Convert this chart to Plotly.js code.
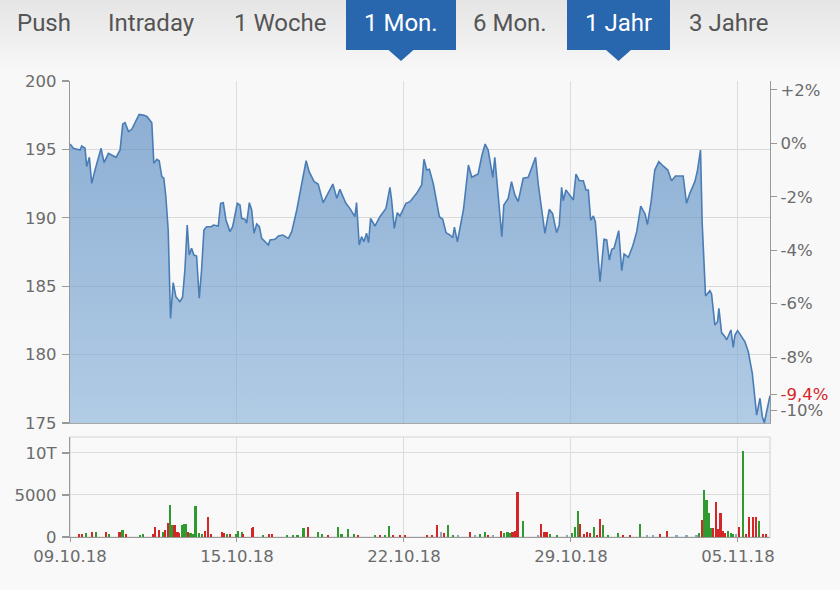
<!DOCTYPE html>
<html>
<head>
<meta charset="utf-8">
<script src="https://cdn.plot.ly/plotly-3.0.1.min.js"></script>
<style>
html,body{margin:0;padding:0;}
body{width:840px;height:590px;overflow:hidden;
background:linear-gradient(to bottom,#e5e5e5 0px,#f2f2f2 50px,#f8f8f8 70px,#f9f9f9 100%);}
#chart{width:840px;height:590px;}
</style>
</head>
<body>
<div id="chart"></div>
<script>
// ---- data (trading-day position from 09.10.18, price in EUR) ----
const priceT = [0,0.10,0.30,0.35,0.45,0.50,0.58,0.65,0.75,0.93,1.02,1.15,1.38,1.50,1.58,1.65,1.75,1.85,2.07,2.22,2.31,2.45,2.51,2.60,2.67,2.75,2.81,2.87,2.94,3.01,3.09,3.17,3.29,3.37,3.44,3.51,3.57,3.64,3.71,3.79,3.87,3.94,4.01,4.09,4.24,4.29,4.44,4.51,4.59,4.67,4.79,4.87,5.01,5.09,5.14,5.24,5.29,5.37,5.44,5.51,5.59,5.67,5.74,5.94,5.99,6.14,6.24,6.37,6.54,6.64,6.79,6.91,7.07,7.16,7.31,7.43,7.58,7.87,7.99,8.08,8.26,8.38,8.53,8.58,8.66,8.73,8.80,8.88,8.94,9.00,9.13,9.28,9.46,9.58,9.63,9.71,9.80,9.88,10.06,10.18,10.38,10.53,10.60,10.68,10.76,10.88,11.06,11.16,11.26,11.38,11.46,11.51,11.60,11.78,11.93,12.03,12.22,12.33,12.43,12.52,12.66,12.72,12.93,12.99,13.12,13.22,13.32,13.42,13.57,13.72,13.94,14.02,14.12,14.22,14.35,14.45,14.57,14.65,14.72,14.77,14.85,15.07,15.15,15.25,15.37,15.45,15.52,15.59,15.67,15.73,15.87,15.99,16.07,16.15,16.22,16.29,16.43,16.52,16.59,16.72,16.85,16.97,17.09,17.22,17.29,17.40,17.51,17.63,17.76,17.90,18.01,18.13,18.36,18.46,18.56,18.71,18.79,18.88,18.93,18.99,19.03,19.16,19.21,19.31,19.39,19.43,19.51,19.61,19.66,19.79,19.86,19.91,19.99,20.11,20.21,20.31,20.43,20.56,20.66,20.73,20.79,20.89,20.96];
const price = [195.39,195.08,194.96,195.25,195.08,193.74,194.42,192.52,193.49,195.08,194.03,194.71,194.42,194.96,196.86,196.95,196.30,196.47,197.56,197.49,197.39,196.95,193.98,194.28,194.17,193.00,192.89,191.54,189.11,182.65,185.26,184.23,183.87,184.19,186.18,189.47,187.28,187.77,187.28,187.21,184.12,186.18,189.11,189.35,189.35,189.47,189.40,191.06,191.11,189.84,188.99,189.35,191.06,190.94,189.96,189.89,189.60,191.11,190.57,188.87,189.55,189.35,188.50,188.01,188.38,188.43,188.67,188.74,188.50,188.99,190.57,192.03,194.17,193.37,192.64,192.47,191.11,192.47,191.42,192.08,191.06,190.69,190.08,191.11,188.01,188.62,188.25,188.87,188.18,189.96,189.40,190.08,190.69,192.23,191.30,189.23,190.37,190.13,191.06,191.18,191.79,192.40,194.28,193.49,193.55,192.47,190.08,189.89,188.91,188.74,188.55,189.31,188.25,190.57,193.86,192.96,193.20,194.52,195.39,194.96,192.96,194.42,188.62,190.94,191.42,192.64,191.67,191.18,192.89,192.96,194.42,192.47,190.81,188.87,190.62,190.30,188.91,189.47,192.23,191.25,192.03,191.30,193.20,192.71,192.71,192.03,192.03,189.82,190.13,189.72,185.33,188.43,188.38,186.91,187.70,187.77,189.06,186.13,187.35,187.11,187.94,188.99,190.86,190.28,189.50,191.18,193.49,194.10,193.79,193.49,192.71,193.06,193.06,191.06,191.79,192.64,193.49,194.96,189.60,185.94,184.28,184.67,184.43,182.16,182.41,183.38,181.61,181.31,181.07,181.80,180.53,181.43,181.75,181.31,180.94,180.21,178.63,175.58,176.81,175.46,175.02,176.19,177.00];

const volT = [0.28,0.35,0.48,0.65,0.78,1.08,1.17,1.48,1.57,1.68,2.10,2.18,2.48,2.55,2.67,2.78,2.85,2.94,2.99,3.05,3.13,3.22,3.27,3.35,3.41,3.47,3.54,3.61,3.67,3.76,3.87,3.95,4.05,4.14,4.22,4.54,4.61,4.69,4.79,4.97,5.04,5.14,5.19,5.44,5.49,5.79,5.95,6.04,6.49,6.67,6.81,6.99,7.13,7.42,7.54,7.73,8.03,8.13,8.33,8.51,8.63,9.13,9.28,9.43,9.55,9.68,9.88,10.03,10.68,10.83,11.00,11.10,11.20,11.33,11.48,11.63,11.98,12.13,12.28,12.43,12.52,12.67,12.90,12.99,13.10,13.17,13.25,13.32,13.40,13.57,14.02,14.10,14.19,14.27,14.37,14.57,14.87,15.02,15.12,15.20,15.27,15.39,15.49,15.57,15.69,15.77,15.87,15.97,16.12,16.42,16.55,16.77,17.07,17.27,17.46,17.66,17.87,18.16,18.46,18.76,18.84,18.94,18.98,19.06,19.14,19.19,19.26,19.34,19.41,19.48,19.54,19.61,19.71,19.78,19.86,19.94,20.04,20.14,20.24,20.34,20.44,20.54,20.64,20.74,20.84];
const vol = [400,400,500,600,550,600,350,600,850,350,250,350,350,1200,850,650,850,1650,3850,1400,1400,600,500,1400,1500,1550,650,450,350,3700,450,350,750,2350,350,600,450,350,350,350,750,600,350,1100,1200,250,400,400,200,250,200,1050,1200,600,350,250,1200,350,900,350,250,250,250,250,1350,250,250,250,200,200,1400,650,450,1400,200,200,600,250,350,550,250,200,750,450,600,500,600,750,5350,1850,200,1550,600,600,350,200,200,500,1200,3100,1600,350,650,500,1200,200,2100,1400,250,500,250,250,1550,200,200,350,750,200,200,250,500,2000,5550,4350,2900,1050,1100,4200,900,2900,750,500,750,500,350,350,1200,10250,350,2350,2350,2350,1950,350,350];
const volDir = ["d","d","u","d","u","d","u","d","u","d","u","u","d","d","d","u","d","d","u","u","d","d","d","u","u","u","d","u","u","u","u","u","d","d","d","d","d","u","d","u","u","u","d","d","d","u","d","d","u","u","u","u","d","u","u","d","u","u","u","u","d","u","d","u","u","d","d","d","d","d","d","n","d","u","u","n","d","n","u","u","d","n","d","u","u","u","d","d","d","u","n","d","d","d","u","u","n","u","u","u","d","d","d","d","u","d","d","u","u","u","d","d","u","n","n","d","d","n","n","n","u","d","u","u","u","u","d","d","d","d","d","d","u","u","u","n","d","u","d","d","d","d","u","d","d"];

const refPrice = 195.45;               // 0 % reference
const priceRange = [175, 200];
const priceTicks = [175,180,185,190,195,200];
const pctTicks = [2,0,-2,-4,-6,-8,-10];
const lastPct = -9.4;
const volTicks = [0,5000,10000];
const volTickText = ["0","5000","10T"];
const dateTickPos = [0,5,10,15,20];
const dateTickText = ["09.10.18","15.10.18","22.10.18","29.10.18","05.11.18"];
const tabs = ["Push","Intraday","1 Woche","1 Mon.","6 Mon.","1 Jahr","3 Jahre"];
const activeTabs = ["1 Mon.","1 Jahr"];

// ---- build ----
const W = 840, H = 590;
const px = x => x / W, py = y => 1 - y / H;
const xEnd = 20.96;
const pct = p => (p / refPrice - 1) * 100;

const dirColor = {u:"#2f9a2f", d:"#d42626", n:"#8fa6bd"};

const traces = [
  {
    type:"scatter", mode:"lines", x:priceT, y:price, xaxis:"x", yaxis:"y",
    line:{color:"#4a7db5", width:1.6},
    fill:"tozeroy",
    fillgradient:{type:"vertical", start:priceRange[0], stop:priceRange[1],
      colorscale:[[0,"rgba(134,176,217,0.62)"],[1,"rgba(70,126,186,0.62)"]]},
    hoverinfo:"skip"
  },
  {
    type:"scatter", mode:"lines", x:[0], y:[0], xaxis:"x", yaxis:"y2",
    line:{width:0}, showlegend:false, hoverinfo:"skip"
  },
  {
    type:"bar", x:volT, y:vol, xaxis:"x2", yaxis:"y3", width:0.065,
    marker:{color:volDir.map(d => dirColor[d]), line:{width:0}},
    hoverinfo:"skip"
  }
];

const axisFont = {family:"DejaVu Sans", size:16.5, color:"#6b6b6b"};
const pctVals = pctTicks.concat([lastPct]);
const pctText = pctTicks.map(v => (v > 0 ? "+" : "") + v + "%")
  .concat(['<span style="color:#d42626">' + String(lastPct).replace(".", ",") + "%</span>"]);

const shapes = [
  // volume panel box (top and right borders)
  {type:"rect", xref:"x2 domain", yref:"y3 domain", x0:0, x1:1, y0:0, y1:1,
   line:{color:"#d6d6d6", width:1.2}, layer:"below"}
];
const annotations = [];
// tab bar
const tabCenters = [43.5,151,280,401,510.5,618.5,729];
const boxes = {"1 Mon.":[346,456], "1 Jahr":[567,670]};
tabs.forEach((t, i) => {
  const active = activeTabs.includes(t);
  if (active) {
    const b = boxes[t];
    shapes.push({type:"rect", xref:"paper", yref:"paper", x0:px(b[0]), x1:px(b[1]),
      y0:py(50), y1:py(0), fillcolor:"#2866ad", line:{width:0}});
    const c = (b[0] + b[1]) / 2;
    shapes.push({type:"path", xref:"paper", yref:"paper",
      path:`M ${px(c-13)},${py(49.5)} L ${px(c+13)},${py(49.5)} L ${px(c)},${py(61)} Z`,
      fillcolor:"#2866ad", line:{width:0}});
  }
  annotations.push({xref:"paper", yref:"paper", x:px(tabCenters[i]), y:py(23.5),
    text:t, showarrow:false, xanchor:"center", yanchor:"middle",
    font:{family:"Roboto", size:24, color: active ? "#ffffff" : "#555555"}});
});

const layout = {
  width:W, height:H, autosize:false,
  margin:{l:0, r:0, t:0, b:0},
  paper_bgcolor:"rgba(0,0,0,0)", plot_bgcolor:"rgba(0,0,0,0)",
  showlegend:false, bargap:0,
  xaxis:{domain:[px(70), px(770)], anchor:"y", range:[0, xEnd],
    tickvals:dateTickPos, showticklabels:false, ticks:"",
    showgrid:true, gridcolor:"#dcdcdc", gridwidth:1,
    showline:true, linecolor:"#a8a8a8", linewidth:1.2, zeroline:false, fixedrange:true},
  yaxis:{domain:[py(423), py(81)], anchor:"x", range:priceRange,
    tickvals:priceTicks, ticks:"outside", ticklen:7, tickcolor:"#999", tickwidth:1.2,
    showgrid:true, gridcolor:"#d9d9d9", gridwidth:1,
    showline:true, linecolor:"#999", linewidth:1.2, zeroline:false,
    tickfont:axisFont, ticklabelstandoff:2},
  yaxis2:{overlaying:"y", side:"right", anchor:"x",
    range:[pct(priceRange[0]), pct(priceRange[1])],
    tickvals:pctVals, ticktext:pctText, ticks:"outside", ticklen:6,
    tickcolor:"#999", tickwidth:1.2, showgrid:false, zeroline:false,
    showline:true, linecolor:"#999", linewidth:1.2, tickfont:axisFont},
  xaxis2:{domain:[px(70), px(770)], anchor:"y3", range:[0, xEnd],
    tickvals:dateTickPos, ticktext:dateTickText, ticks:"outside", ticklen:4,
    tickcolor:"#999", showgrid:true, gridcolor:"#dcdcdc",
    showline:true, linecolor:"#999", linewidth:1.2, zeroline:false,
    tickfont:axisFont},
  yaxis3:{domain:[py(537), py(437)], anchor:"x2", range:[0, 11900],
    tickvals:volTicks, ticktext:volTickText, ticks:"outside", ticklen:7,
    tickcolor:"#999", tickwidth:1.2, showgrid:true, gridcolor:"#dcdcdc",
    showline:true, linecolor:"#999", linewidth:1.2, zeroline:false,
    tickfont:axisFont, ticklabelstandoff:2},
  shapes:shapes,
  annotations:annotations
};

Plotly.newPlot("chart", traces, layout, {staticPlot:true, displayModeBar:false});
</script>
</body>
</html>
